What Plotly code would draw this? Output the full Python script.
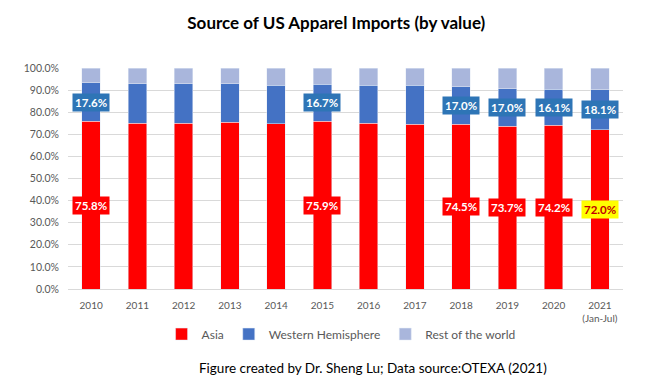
import plotly.graph_objects as go

years = ["2010", "2011", "2012", "2013", "2014", "2015", "2016", "2017", "2018", "2019", "2020", "2021"]
tick_text = ["2010", "2011", "2012", "2013", "2014", "2015", "2016", "2017", "2018", "2019", "2020", "2021<br>(Jan-Jul)"]
asia = [75.8, 75.0, 75.0, 75.5, 74.7, 75.9, 75.0, 74.6, 74.5, 73.7, 74.2, 72.0]
western = [17.6, 17.8, 17.8, 17.3, 17.6, 16.7, 17.3, 17.7, 17.0, 17.0, 16.1, 18.1]
rest = [round(100 - a - w, 1) for a, w in zip(asia, western)]
labeled_years = ["2010", "2015", "2018", "2019", "2020", "2021"]
highlight_year = "2021"

FONT = "Lato, 'Open Sans', sans-serif"
C_ASIA = "#FF0000"
C_WEST = "#4472C4"
C_REST = "#A9B6DC"

fig = go.Figure()
fig.add_trace(go.Bar(x=years, y=asia, name="Asia", marker_color=C_ASIA))
fig.add_trace(go.Bar(x=years, y=western, name="Western Hemisphere", marker_color=C_WEST))
fig.add_trace(go.Bar(x=years, y=rest, name="Rest of the world", marker_color=C_REST))

for i, yr in enumerate(years):
    if yr not in labeled_years:
        continue
    hl = yr == highlight_year
    fig.add_annotation(
        x=i, y=asia[i] / 2, text=f"<b>{asia[i]:.1f}%</b>", showarrow=False,
        font=dict(family=FONT, size=11.5, color="#C00000" if hl else "white"),
        bgcolor="#FFFF00" if hl else C_ASIA, borderpad=2,
    )
    fig.add_annotation(
        x=i, y=asia[i] + western[i] / 2, text=f"<b>{western[i]:.1f}%</b>", showarrow=False,
        font=dict(family=FONT, size=11.5, color="white"),
        bgcolor="#2E75B6", borderpad=2,
    )

fig.update_layout(
    barmode="stack",
    bargap=0.6,
    width=645, height=383,
    margin=dict(l=60, r=30, t=60, b=102),
    paper_bgcolor="white", plot_bgcolor="white",
    font=dict(family=FONT, color="#595959", size=10),
    title=dict(text="<b>Source of US Apparel Imports (by value)</b>", x=0.509, xanchor="center",
               y=0.961, yanchor="middle", font=dict(family=FONT, size=17, color="black")),
    showlegend=True,
    legend=dict(orientation="h", x=0.492, xanchor="center", y=-0.204, yanchor="middle",
                font=dict(family=FONT, size=12, color="#595959"), itemwidth=30, traceorder="normal"),
    xaxis=dict(type="category", range=[-0.5, len(years) - 0.5], tickmode="array", tickvals=years,
               ticktext=tick_text, showline=True, linecolor="#D9D9D9", ticks="", tickangle=0,
               ticklabelstandoff=7, tickfont=dict(size=10, color="#595959")),
    yaxis=dict(range=[0, 100], dtick=10, tickformat=".1f", ticksuffix="%", showgrid=True,
               gridcolor="#D9D9D9", zeroline=False, ticks="", ticklabelstandoff=8,
               tickfont=dict(size=10.5, color="#595959")),
)

fig.add_annotation(
    text="Figure created by Dr. Sheng Lu; Data source:OTEXA (2021)",
    xref="paper", yref="paper", x=0.55, y=-0.357, xanchor="center", yanchor="middle",
    showarrow=False, font=dict(family=FONT, size=13.5, color="black"),
)

fig.write_html("out.html")
